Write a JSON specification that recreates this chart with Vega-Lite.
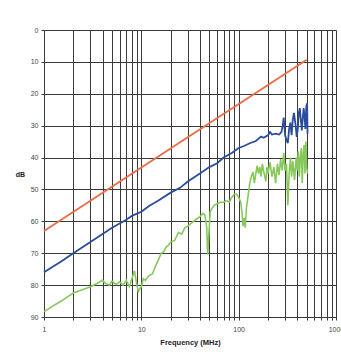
{
  "$schema": "https://vega.github.io/schema/vega-lite/v6.json",
  "width": 292,
  "height": 287,
  "autosize": {"type": "none"},
  "padding": {"left": 44, "top": 30, "right": 5, "bottom": 47},
  "background": "white",
  "config": {
    "font": "Liberation Sans",
    "view": {"stroke": null},
    "axis": {"labelFont": "Liberation Sans", "titleFont": "Liberation Sans"}
  },
  "datasets": {
    "orange": [
      {"f": 1, "db": 63, "s": "limit"},
      {"f": 500, "db": 9.3, "s": "limit"}
    ],
    "blue": [
      {"f": 1, "db": 76}, {"f": 1.5, "db": 72.6}, {"f": 2, "db": 70}, {"f": 3, "db": 66.5}, {"f": 4, "db": 64}, {"f": 5, "db": 62},
      {"f": 7, "db": 59.5}, {"f": 8, "db": 58.3}, {"f": 10, "db": 57}, {"f": 12, "db": 55.2}, {"f": 15, "db": 53.5},
      {"f": 20, "db": 51}, {"f": 25, "db": 49.5}, {"f": 30, "db": 47.5}, {"f": 40, "db": 45}, {"f": 50, "db": 43},
      {"f": 60, "db": 41.8}, {"f": 70, "db": 40}, {"f": 85, "db": 38.6}, {"f": 100, "db": 37}, {"f": 115, "db": 36.3},
      {"f": 130, "db": 35.5}, {"f": 150, "db": 34.8}, {"f": 170, "db": 33.4}, {"f": 180, "db": 33.8}, {"f": 200, "db": 33},
      {"f": 210, "db": 32}, {"f": 220, "db": 32.8}, {"f": 240, "db": 32.5}, {"f": 260, "db": 32.8}, {"f": 275, "db": 32},
      {"f": 285, "db": 29.5}, {"f": 290, "db": 27.5}, {"f": 300, "db": 33}, {"f": 310, "db": 34.5}, {"f": 320, "db": 35.5},
      {"f": 330, "db": 31}, {"f": 340, "db": 29}, {"f": 350, "db": 33}, {"f": 360, "db": 28}, {"f": 370, "db": 26},
      {"f": 385, "db": 30}, {"f": 395, "db": 33.5}, {"f": 405, "db": 31}, {"f": 415, "db": 26}, {"f": 425, "db": 24.5},
      {"f": 435, "db": 28}, {"f": 445, "db": 31.5}, {"f": 455, "db": 28}, {"f": 465, "db": 24.5}, {"f": 475, "db": 27},
      {"f": 485, "db": 31}, {"f": 495, "db": 24}, {"f": 505, "db": 23}, {"f": 510, "db": 32.5}
    ],
    "green": [
      {"f": 1, "db": 88.3}, {"f": 1.5, "db": 85}, {"f": 2, "db": 82.5}, {"f": 3, "db": 80.5}, {"f": 3.5, "db": 79.5},
      {"f": 4, "db": 78.5}, {"f": 4.3, "db": 79.5}, {"f": 4.7, "db": 80}, {"f": 5, "db": 78.8}, {"f": 5.5, "db": 79.8},
      {"f": 6, "db": 79}, {"f": 6.5, "db": 80}, {"f": 7, "db": 78.5}, {"f": 7.5, "db": 80.5}, {"f": 8, "db": 78},
      {"f": 8.5, "db": 75.5}, {"f": 9, "db": 80}, {"f": 9.3, "db": 82}, {"f": 9.7, "db": 81}, {"f": 10, "db": 80.5},
      {"f": 10.5, "db": 78}, {"f": 11, "db": 78.5}, {"f": 12, "db": 77}, {"f": 13, "db": 76.5}, {"f": 14, "db": 74},
      {"f": 15, "db": 72}, {"f": 16, "db": 70}, {"f": 17, "db": 69.5}, {"f": 18, "db": 68}, {"f": 19, "db": 67.5},
      {"f": 20, "db": 66.5}, {"f": 22, "db": 66}, {"f": 24, "db": 63.5}, {"f": 26, "db": 64}, {"f": 28, "db": 62},
      {"f": 30, "db": 61.5}, {"f": 33, "db": 60.5}, {"f": 36, "db": 59.5}, {"f": 40, "db": 58.5}, {"f": 43, "db": 57.5},
      {"f": 45, "db": 58}, {"f": 47, "db": 62}, {"f": 48, "db": 70.5}, {"f": 49, "db": 66}, {"f": 51, "db": 57},
      {"f": 53, "db": 56}, {"f": 56, "db": 55}, {"f": 60, "db": 54.5}, {"f": 65, "db": 54}, {"f": 70, "db": 54},
      {"f": 75, "db": 53.5}, {"f": 80, "db": 54}, {"f": 85, "db": 52.5}, {"f": 90, "db": 51.5}, {"f": 95, "db": 51.5},
      {"f": 100, "db": 52.5}, {"f": 105, "db": 54}, {"f": 108, "db": 57}, {"f": 111, "db": 61.5}, {"f": 114, "db": 59},
      {"f": 117, "db": 62}, {"f": 120, "db": 56}, {"f": 125, "db": 52}, {"f": 130, "db": 48}, {"f": 135, "db": 46},
      {"f": 140, "db": 44.5}, {"f": 145, "db": 48}, {"f": 150, "db": 45}, {"f": 155, "db": 42.5}, {"f": 160, "db": 45},
      {"f": 165, "db": 43}, {"f": 170, "db": 46}, {"f": 175, "db": 42}, {"f": 180, "db": 44}, {"f": 190, "db": 47.5},
      {"f": 195, "db": 43}, {"f": 200, "db": 45}, {"f": 210, "db": 41.5}, {"f": 220, "db": 46}, {"f": 230, "db": 43},
      {"f": 240, "db": 48}, {"f": 250, "db": 42}, {"f": 260, "db": 45.5}, {"f": 270, "db": 40.5}, {"f": 280, "db": 44},
      {"f": 290, "db": 38.5}, {"f": 300, "db": 44}, {"f": 310, "db": 42}, {"f": 320, "db": 55}, {"f": 330, "db": 45},
      {"f": 340, "db": 40}, {"f": 350, "db": 46}, {"f": 360, "db": 41}, {"f": 375, "db": 47}, {"f": 390, "db": 40},
      {"f": 400, "db": 44}, {"f": 410, "db": 38}, {"f": 420, "db": 46}, {"f": 430, "db": 40}, {"f": 440, "db": 37},
      {"f": 450, "db": 48}, {"f": 460, "db": 39}, {"f": 470, "db": 36}, {"f": 480, "db": 45}, {"f": 490, "db": 35},
      {"f": 500, "db": 43}, {"f": 510, "db": 45}
    ]
  },
  "encoding": {
    "x": {
      "field": "f", "type": "quantitative",
      "scale": {"type": "log", "domain": [1, 1000], "nice": false},
      "axis": {
        "title": "Frequency (MHz)",
        "values": [1,2,3,4,5,6,7,8,9,10,20,30,40,50,60,70,80,90,100,200,300,400,500,600,700,800,900,1000],
        "labelExpr": "datum.value == 1 || datum.value == 10 || datum.value == 100 || datum.value == 1000 ? format(datum.value, 'd') : ''",
        "grid": true, "gridColor": "#3a3a3a", "gridWidth": 1, "gridOpacity": 1,
        "domain": true, "domainColor": "#3a3a3a",
        "ticks": true, "tickSize": 3, "tickColor": "#3a3a3a",
        "labelFontSize": 7, "labelColor": "#444", "labelPadding": 5, "labelOverlap": false, "labelFlush": false,
        "titleFontSize": 7.5, "titleFontWeight": "bold", "titleColor": "#222", "titlePadding": 6
      }
    },
    "y": {
      "field": "db", "type": "quantitative",
      "scale": {"domain": [0, 90], "reverse": true, "nice": false},
      "axis": {
        "title": "dB",
        "values": [0,10,20,30,40,50,60,70,80,90],
        "grid": true, "gridColor": "#3a3a3a", "gridWidth": 1, "gridOpacity": 1,
        "domain": true, "domainColor": "#3a3a3a",
        "ticks": true, "tickSize": 3, "tickColor": "#3a3a3a",
        "labelFontSize": 7, "labelColor": "#444", "labelPadding": 3,
        "titleFontSize": 7, "titleFontWeight": "bold", "titleColor": "#222",
        "titleAngle": 0, "titleX": -24, "titleY": 144, "titleAlign": "center", "titleBaseline": "middle"
      }
    }
  },
  "layer": [
    {"data": {"name": "green"}, "mark": {"type": "line", "color": "#86c95a", "strokeWidth": 1.6}},
    {"data": {"name": "blue"}, "mark": {"type": "line", "color": "#2a4c9e", "strokeWidth": 1.8}},
    {"data": {"name": "orange"}, "mark": {"type": "line", "color": "#ee6a46", "strokeWidth": 1.8}}
  ]
}
